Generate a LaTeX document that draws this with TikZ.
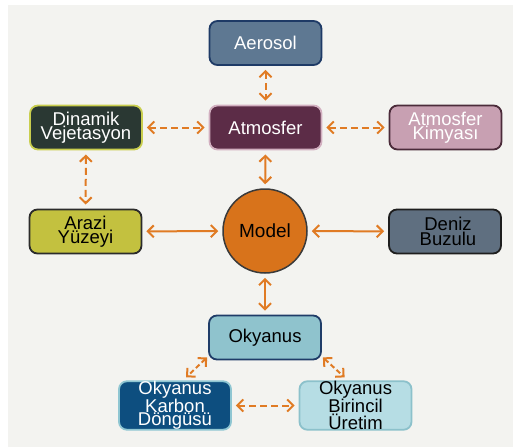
\documentclass[tikz,border=0pt]{standalone}
\usepackage{fontspec}
\setmainfont{Liberation Sans}
\usetikzlibrary{arrows.meta}
\definecolor{bg}{HTML}{F3F3F0}
\definecolor{arr}{HTML}{E07B24}
\definecolor{aeF}{HTML}{5E7892}\definecolor{aeD}{HTML}{1E3A66}
\definecolor{atF}{HTML}{5C2C47}\definecolor{atD}{HTML}{D2AFC0}
\definecolor{dvF}{HTML}{2A3833}\definecolor{dvD}{HTML}{C9CE4E}
\definecolor{akF}{HTML}{C8A0B2}\definecolor{akD}{HTML}{4B2B3A}
\definecolor{azF}{HTML}{C3C13F}\definecolor{azD}{HTML}{2B2B2B}
\definecolor{dbF}{HTML}{5F6F80}\definecolor{dbD}{HTML}{1E1E1E}
\definecolor{okF}{HTML}{8FC3CD}\definecolor{okD}{HTML}{1F3C68}
\definecolor{kdF}{HTML}{0D4E7F}\definecolor{kdD}{HTML}{8FC6D2}
\definecolor{buF}{HTML}{B6DDE4}\definecolor{buD}{HTML}{8CC1CB}
\definecolor{moF}{HTML}{D8731B}\definecolor{moD}{HTML}{3A3A3A}
\begin{document}
\begin{tikzpicture}[x=1pt,y=-1pt,
  box/.style={rounded corners=8pt, line width=1.8pt, minimum width=112pt, minimum height=44pt,
    align=center, inner sep=0pt, font=\fontsize{18.5}{14.5}\selectfont},
  tight/.style={font=\fontsize{18.5}{13}\selectfont},
  lnk/.style={draw=arr, line width=2pt,
    {Straight Barb[length=6pt,width=12pt]}-{Straight Barb[length=6pt,width=12pt]},
    shorten >=4pt, shorten <=4pt},
  dsh/.style={lnk, dash pattern=on 7pt off 4pt}]
\useasboundingbox (0,0) rectangle (513,447);
\fill[bg] (8,5) rectangle (513,447);

\node[box, fill=aeF, draw=aeD, text=white] (aer) at (265.5,43) {Aerosol};
\node[box, fill=atF, draw=atD, text=white] (atm) at (265.5,127.5) {Atmosfer};
\node[box, fill=dvF, draw=dvD, text=white] (dv) at (86,127.5) {Dinamik\\Vejetasyon};
\node[box, fill=akF, draw=akD, text=white] (ak) at (445.5,127.5) {Atmosfer\\Kimyası};
\node[box, fill=azF, draw=azD, text=black] (az) at (85.5,231.5) {Arazi\\Yüzeyi};
\node[circle, fill=moF, draw=moD, line width=1.5pt, minimum size=84pt, inner sep=0pt,
      font=\fontsize{19}{14}\selectfont] (mod) at (265,231) {Model};
\node[box, fill=dbF, draw=dbD, text=black] (db) at (445,231.5) {\hspace*{6pt}Deniz\\\hspace*{6pt}Buzulu};
\node[box, fill=okF, draw=okD, text=black] (oky) at (265,337.5) {Okyanus};
\node[box, tight, fill=kdF, draw=kdD, text=white] (okd) at (175,405.5) {Okyanus\\Karbon\\Döngüsü};
\node[box, tight, fill=buF, draw=buD, text=black] (obu) at (355.5,405.5) {Okyanus\\Birincil\\Üretim};

\draw[dsh] (aer) -- (atm);
\draw[dsh] (dv) -- (atm);
\draw[dsh] (atm) -- (ak);
\draw[lnk] (atm) -- (mod);
\draw[dsh] (dv) -- (az);
\draw[lnk] (az) -- (mod);
\draw[lnk] (mod) -- (db);
\draw[lnk] (mod) -- (oky);
\draw[dsh, shorten >=0pt, shorten <=0pt, dash pattern=on 5pt off 3pt]
  ([xshift=-1pt,yshift=3pt]oky.south west) -- ([xshift=68pt,yshift=3pt]okd.north west);
\draw[dsh, shorten >=0pt, shorten <=0pt, dash pattern=on 5pt off 3pt]
  ([xshift=1pt,yshift=3pt]oky.south east) -- ([xshift=46pt,yshift=3pt]obu.north west);
\draw[dsh] (okd) -- (obu);
\end{tikzpicture}
\end{document}
